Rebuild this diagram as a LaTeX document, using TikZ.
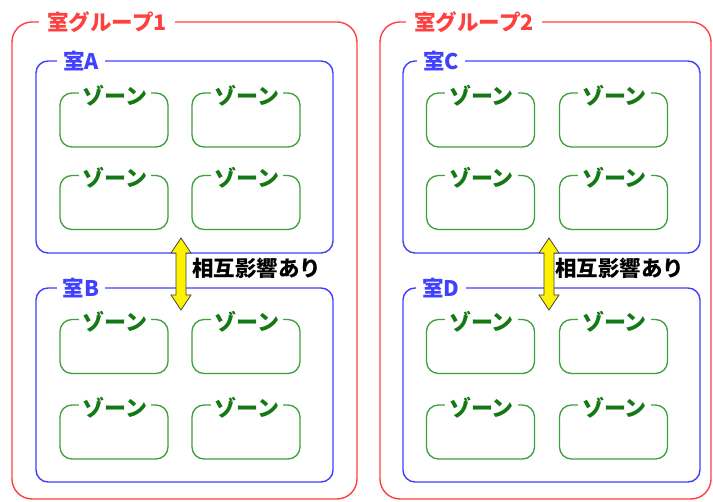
\documentclass[tikz,border=0pt]{standalone}
\usepackage{fontspec}
\setmainfont{Noto Sans CJK JP}
\usetikzlibrary{calc}
\definecolor{grpred}{RGB}{255,64,64}
\definecolor{roomblue}{RGB}{64,64,255}
\definecolor{zonegreen}{RGB}{60,160,60}
\definecolor{zonetextgreen}{RGB}{20,120,20}
\def\zone#1(#2,#3){\node[zonebox] (#1) at (#2,#3) {};
	\node[zonetext] (#1t) at ($(#1.north)+(1,3)$) {ゾーン};}
\def\mutual#1(#2,#3){\draw[mutualarrow] (#1top) -- ++(10,15) -- ++(-5,0) -- ($(#1bot)+(5,-15)$) -- ++(5,0) -- (#1bot) -- ++(-10,-15) -- ++(5,0) -- ($(#1top)+(-5,15)$) -- ++(-5,0) -- cycle;}

\begin{document}
\begin{tikzpicture}[x=1pt, y=-1pt,
		grpline/.style={grpred, line width=1.4pt, rounded corners=20pt},
		grptext/.style={text=grpred, fill=white, inner xsep=8pt, inner ysep=1pt, font=\fontsize{21.5}{24}\selectfont\bfseries},
		roomline/.style={roomblue, line width=1.4pt, rounded corners=12pt},
		roomtext/.style={text=roomblue, fill=white, inner xsep=6pt, inner ysep=1pt, font=\fontsize{21.5}{24}\selectfont\bfseries},
		zonebox/.style={draw=zonegreen, line width=1.3pt, rounded corners=12pt, minimum width=108pt, minimum height=54pt, inner sep=0pt},
		zonetext/.style={text=zonetextgreen, fill=white, inner xsep=4pt, inner ysep=0pt, font=\fontsize{22}{24}\selectfont\bfseries},
		mutualarrow/.style={fill=yellow, draw=black!75, line width=0.8pt, line join=miter},
		mutualtext/.style={text=black, anchor=west, inner sep=0pt, font=\fontsize{21.5}{24}\selectfont\bfseries}]
	%%%%% START %%%%%
	\useasboundingbox (0,0) rectangle (713,502);
	
	% group 1
	\draw[grpline] (12,22) rectangle (357,499);
	\node[grptext] (g1lbl) at (107,22) {室グループ1};
	
	\draw[roomline] (36,61) rectangle (333,253);
	\node[roomtext] (alb) at (81,61) {室A};
	\zone{za1}(114,120)
	\zone{za2}(246,120)
	\zone{za3}(114,202.5)
	\zone{za4}(246,202.5)
	
	\draw[roomline] (36,288) rectangle (333,482);
	\node[roomtext] (blb) at (81,288) {室B};
	\zone{zb1}(114,346.5)
	\zone{zb2}(246,346.5)
	\zone{zb3}(114,432)
	\zone{zb4}(246,432)
	
	\coordinate (abtop) at (181,238);
	\coordinate (abbot) at (181,310);
	\mutual{ab}(181,274)
	\node[mutualtext] (abtxt) at (192,268) {相互影響あり};
	
	% group 2
	\draw[grpline] (380,22) rectangle (711,499);
	\node[grptext] (g2lbl) at (474,22) {室グループ2};
	
	\draw[roomline] (403,61) rectangle (700,253);
	\node[roomtext] (clb) at (441,61) {室C};
	\zone{zc1}(480.5,120)
	\zone{zc2}(613.5,120)
	\zone{zc3}(480.5,202.5)
	\zone{zc4}(613.5,202.5)
	
	\draw[roomline] (403,288) rectangle (700,482);
	\node[roomtext] (dlb) at (441,288) {室D};
	\zone{zd1}(480.5,346.5)
	\zone{zd2}(613.5,346.5)
	\zone{zd3}(480.5,432)
	\zone{zd4}(613.5,432)
	
	\coordinate (cdtop) at (549,238);
	\coordinate (cdbot) at (549,310);
	\mutual{cd}(549,274)
	\node[mutualtext] (cdtxt) at (555,268) {相互影響あり};
	
	%%%%% END %%%%%
\end{tikzpicture}
\end{document}
